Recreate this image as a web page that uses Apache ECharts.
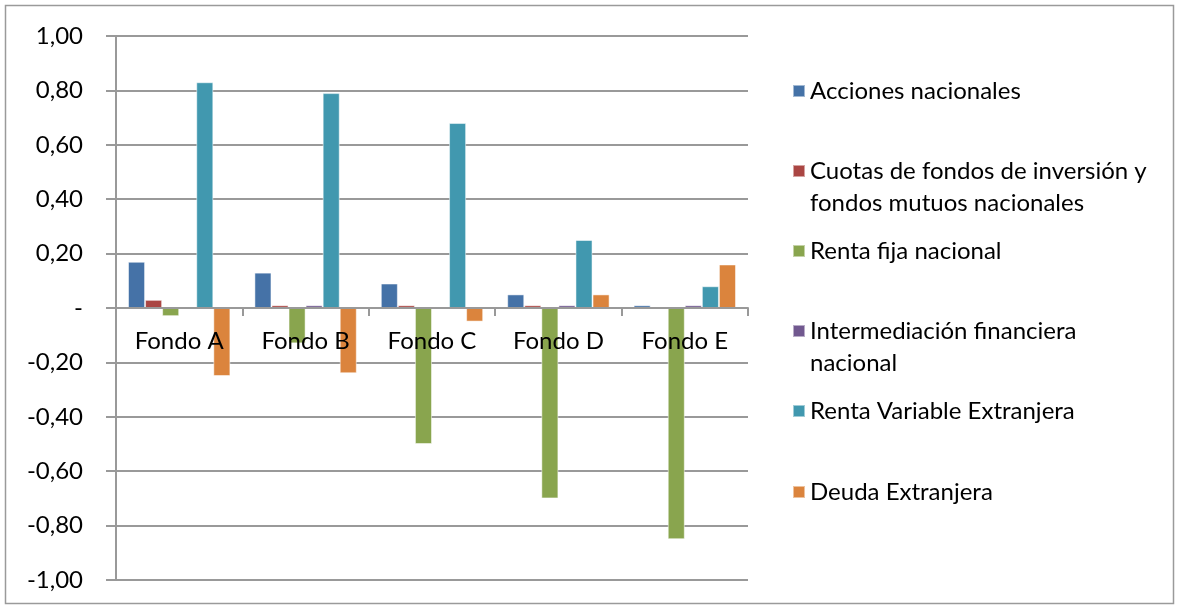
<!DOCTYPE html>
<html><head><meta charset="utf-8">
<script src="https://cdn.jsdelivr.net/npm/echarts@6/dist/echarts.min.js"></script>
<style>html,body{margin:0;padding:0;background:#fff}#c{width:1179px;height:607px}</style>
</head><body><div id="c"></div>
<script>
const categories = ['Fondo A', 'Fondo B', 'Fondo C', 'Fondo D', 'Fondo E'];
const seriesNames = ['Acciones nacionales', 'Cuotas de fondos de inversión y fondos mutuos nacionales', 'Renta fija nacional', 'Intermediación financiera nacional', 'Renta Variable Extranjera', 'Deuda Extranjera'];
const legendLabels = ['Acciones nacionales', ' \nCuotas de fondos de inversión y\nfondos mutuos nacionales', 'Renta fija nacional', ' \nIntermediación financiera\nnacional', 'Renta Variable Extranjera', 'Deuda Extranjera'];
const accionesNacionales = [0.17, 0.13, 0.09, 0.05, 0.01];
const cuotasFondos = [0.03, 0.01, 0.01, 0.01, 0.00];
const rentaFijaNacional = [-0.03, -0.13, -0.50, -0.70, -0.85];
const intermediacionFinanciera = [0.00, 0.01, 0.00, 0.01, 0.01];
const rentaVariableExtranjera = [0.83, 0.79, 0.68, 0.25, 0.08];
const deudaExtranjera = [-0.25, -0.24, -0.05, 0.05, 0.16];
const seriesValues = [accionesNacionales, cuotasFondos, rentaFijaNacional, intermediacionFinanciera, rentaVariableExtranjera, deudaExtranjera];
const colors = ['#4572A7', '#AA4643', '#89A54E', '#71588F', '#4198AF', '#DB843D'];

const font = 'Lato, "Open Sans", sans-serif';
const fs = 24;
const legendTops = [75, 123, 235, 283, 395, 476];

const chart = echarts.init(document.getElementById('c'), null, {renderer: 'canvas'});
chart.setOption({
  animation: false,
  color: colors,
  graphic: [{type: 'rect', shape: {x: 5.5, y: 5.5, width: 1168, height: 598}, style: {fill: 'none', stroke: '#9a9a9a', lineWidth: 1.5}, silent: true}],
  grid: {left: 116, right: 431, top: 36, bottom: 27, outerBoundsMode: 'none', containLabel: false},
  legend: seriesNames.map((n, i) => ({
    data: [n], left: 792, top: legendTops[i], orient: 'vertical', padding: 0,
    itemWidth: 12, itemHeight: 12, icon: 'rect', selectedMode: false,
    formatter: () => legendLabels[i],
    textStyle: {fontFamily: font, fontSize: fs, color: '#000', lineHeight: 32}
  })),
  xAxis: {
    type: 'category', data: categories, z: 10,
    axisLine: {onZero: true, lineStyle: {color: '#999', width: 2}},
    axisTick: {show: true, length: 8, lineStyle: {color: '#999', width: 2}},
    axisLabel: {fontFamily: font, fontSize: fs, color: '#000', margin: -251},
    splitLine: {show: false}
  },
  yAxis: {
    type: 'value', min: -1, max: 1, interval: 0.2,
    axisLine: {show: true, lineStyle: {color: '#999', width: 2}},
    axisTick: {show: true, length: 10, lineStyle: {color: '#999', width: 2}},
    splitLine: {lineStyle: {color: '#999', width: 2}},
    axisLabel: {fontFamily: font, fontSize: fs, color: '#000', margin: 33,
      formatter: v => Math.abs(v) < 1e-9 ? '-' : v.toFixed(2).replace('.', ',')}
  },
  series: seriesNames.map((n, i) => ({
    name: n, type: 'bar', data: seriesValues[i],
    barGap: '0%', barCategoryGap: '19%',
    itemStyle: {color: colors[i], borderColor: 'rgba(255,255,255,0.5)', borderWidth: 1}
  }))
});
</script></body></html>
